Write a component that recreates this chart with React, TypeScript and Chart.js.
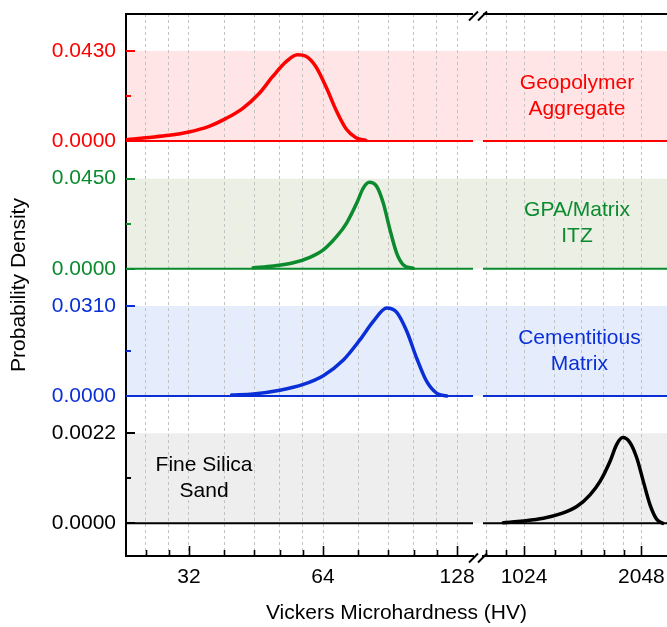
import React, { useEffect, useRef } from 'react';
import { Chart, registerables } from 'chart.js';

Chart.register(...registerables);

const FONT = '"Liberation Sans", Arial, Helvetica, sans-serif';

// ---------- data ----------
const panelNames: string[][] = [
  ['Geopolymer', 'Aggregate'],
  ['GPA/Matrix', 'ITZ'],
  ['Cementitious', 'Matrix'],
  ['Fine Silica', 'Sand'],
];
const panelMax = [0.043, 0.045, 0.031, 0.0022];

const xLeftTicks = [25.6, 28.8, 32, 38.4, 44.8, 51.2, 57.6, 64, 76.8, 89.6, 102.4, 115.2, 128];
const xRightTicks = [819.2, 921.6, 1024, 1228.8, 1433.6, 1638.4, 1843.2, 2048];
const xMajorLabels = [32, 64, 128, 1024, 2048];

const geoX = [23.3, 25.6, 28.9, 32.0, 35.5, 38.7, 42.2, 46.0, 49.3, 52.9, 56.1, 58.6, 61.7, 65.0, 68.5, 72.1, 75.9, 79.9];
const geoY = [0.0007, 0.0016, 0.0027, 0.0043, 0.007, 0.0107, 0.0155, 0.0227, 0.0307, 0.0379, 0.0412, 0.0405, 0.0355, 0.0259, 0.0147, 0.0059, 0.0016, 0.0003];

const itzX = [44.6, 49.5, 54.9, 59.8, 64.1, 68.7, 72.3, 76.2, 78.8, 81.3, 84.5, 87.4, 90.5, 93.7, 97.0, 102.1];
const itzY = [0.0005, 0.0014, 0.003, 0.0057, 0.0094, 0.0161, 0.0228, 0.0328, 0.0403, 0.0432, 0.0411, 0.0328, 0.0194, 0.0077, 0.0019, 0.0002];

const cemX = [39.9, 44.6, 51.2, 57.8, 64.1, 71.1, 77.5, 83.0, 89.0, 93.7, 98.7, 103.9, 109.4, 115.3, 121.4];
const cemY = [0.00035, 0.0007, 0.002, 0.004, 0.007, 0.0124, 0.0194, 0.0257, 0.0303, 0.0288, 0.0223, 0.013, 0.005, 0.0009, 0.0];

const sandX = [906, 1020, 1148, 1267, 1398, 1512, 1604, 1702, 1770, 1834, 1915, 1992, 2071, 2155, 2241, 2322];
const sandY = [0.000015, 0.000057, 0.000123, 0.000229, 0.000409, 0.000697, 0.001025, 0.001518, 0.001929, 0.002094, 0.001971, 0.001602, 0.001025, 0.000451, 0.000099, 0.0];

// ---------- styles / layout ----------
const panelColors = ['#ff0000', '#0b8a2e', '#0a2fd6', '#000000'];
const panelFills = ['#ffe5e5', '#ebefe4', '#e5edfc', '#eeeeee'];
const panelHi = [1.411, 1.324, 1.233, 1.142];
const panelLo = [-0.0944, -0.181, -0.272, -0.363];
const yIds = ['yRed', 'yGreen', 'yBlue', 'yBlack'];
const labelAxis = ['xR', 'xR', 'xR', 'xL'];
const labelX = [1400, 1400, 1420, 34.6];

const XL_MIN = 23.11, XL_MAX = 139.0;
const XR_MIN = 803.6, XR_MAX = 2382;

const Y_AXIS_W = 93.8;
const X_AXIS_H = 44.4;

export default function App() {
  const ref = useRef<HTMLCanvasElement>(null);

  useEffect(() => {
    const canvas = ref.current;
    if (!canvas) return;

    const curves = [
      { x: geoX, y: geoY, xa: 'xL' },
      { x: itzX, y: itzY, xa: 'xL' },
      { x: cemX, y: cemY, xa: 'xL' },
      { x: sandX, y: sandY, xa: 'xR' },
    ];

    const datasets: any[] = [];
    panelColors.forEach((c, i) => {
      datasets.push({
        data: [{ x: XL_MIN, y: 0 }, { x: XL_MAX, y: 0 }],
        xAxisID: 'xL', yAxisID: yIds[i], borderColor: c, borderWidth: 2, pointRadius: 0,
      });
      datasets.push({
        data: [{ x: XR_MIN, y: 0 }, { x: XR_MAX, y: 0 }],
        xAxisID: 'xR', yAxisID: yIds[i], borderColor: c, borderWidth: 2, pointRadius: 0,
      });
    });
    curves.forEach((cv, i) => {
      datasets.push({
        data: cv.x.map((x, k) => ({ x, y: cv.y[k] })),
        xAxisID: cv.xa, yAxisID: yIds[i], borderColor: panelColors[i], borderWidth: 3.5,
        pointRadius: 0, cubicInterpolationMode: 'monotone', borderCapStyle: 'round', borderJoinStyle: 'round',
      });
    });

    const tickFont = { family: FONT, size: 21 };

    const xAxis = (ticks: number[], min: number, max: number, weight: number) => ({
      type: 'logarithmic', position: 'bottom', stack: 'xs', stackWeight: weight, min, max,
      afterBuildTicks: (s: any) => { s.ticks = ticks.map((v) => ({ value: v })); },
      afterFit: (s: any) => { s.height = X_AXIS_H; s.paddingLeft = 0; s.paddingRight = 0; },
      grid: { display: true, color: '#c2c2c2', lineWidth: 1, drawTicks: false },
      border: { display: true, color: '#000', width: 2, dash: [3, 3] },
      ticks: {
        autoSkip: false, maxRotation: 0, minRotation: 0, padding: 9, color: '#000', font: tickFont,
        callback: (v: any) => (xMajorLabels.includes(Number(v)) ? String(v) : ''),
      },
    });

    const yAxis = (i: number) => ({
      type: 'linear', position: 'left', stack: 'ys', stackWeight: 1,
      min: panelMax[i] * panelLo[i], max: panelMax[i] * panelHi[i],
      afterBuildTicks: (s: any) => { s.ticks = [{ value: 0 }, { value: panelMax[i] }]; },
      afterFit: (s: any) => { s.width = Y_AXIS_W; s.paddingTop = 0; s.paddingBottom = 0; },
      grid: { display: false, drawTicks: false },
      border: { display: true, color: '#000', width: 2 },
      ticks: {
        padding: 10, color: panelColors[i], font: tickFont,
        callback: (v: any) => Number(v).toFixed(4),
      },
    });

    const decor = {
      id: 'decor',
      beforeDraw(chart: any) {
        const { ctx, chartArea } = chart;
        ctx.save();
        panelFills.forEach((f, i) => {
          const ys = chart.scales[yIds[i]];
          const top = ys.getPixelForValue(panelMax[i]);
          const bot = ys.getPixelForValue(0);
          ctx.fillStyle = f;
          ctx.fillRect(chartArea.left, top, chartArea.right - chartArea.left, bot - top);
        });
        ctx.restore();
      },
      afterDraw(chart: any) {
        const { ctx, chartArea } = chart;
        const xl = chart.scales.xL, xr = chart.scales.xR;
        ctx.save();
        // top frame
        ctx.strokeStyle = '#000';
        ctx.lineWidth = 2;
        ctx.beginPath();
        ctx.moveTo(chartArea.left - 1, chartArea.top);
        ctx.lineTo(xl.right, chartArea.top);
        ctx.moveTo(xr.left, chartArea.top);
        ctx.lineTo(chartArea.right, chartArea.top);
        ctx.stroke();
        // x ticks (inward)
        ctx.lineWidth = 1.6;
        const drawX = (s: any, ticks: number[]) => {
          ticks.forEach((v) => {
            const px = Math.round(s.getPixelForValue(v)) + 0.5;
            const len = xMajorLabels.includes(v) ? 10 : 6;
            ctx.beginPath();
            ctx.moveTo(px, chartArea.bottom);
            ctx.lineTo(px, chartArea.bottom - len);
            ctx.stroke();
          });
        };
        drawX(xl, xLeftTicks);
        drawX(xr, xRightTicks);
        // y ticks (inward)
        panelColors.forEach((c, i) => {
          const ys = chart.scales[yIds[i]];
          ctx.strokeStyle = c;
          ctx.lineWidth = 2;
          [[0, 9], [panelMax[i] / 2, 5], [panelMax[i], 9]].forEach(([v, len]) => {
            const py = Math.round(ys.getPixelForValue(v));
            ctx.beginPath();
            ctx.moveTo(chartArea.left, py);
            ctx.lineTo(chartArea.left + len, py);
            ctx.stroke();
          });
        });
        // break marks
        const gx = (xl.right + xr.left) / 2;
        ctx.strokeStyle = '#000';
        ctx.lineWidth = 2;
        [chartArea.top + 2, chartArea.bottom + 2].forEach((yc) => {
          [-1, 1].forEach((k) => {
            const cx = gx + k * 4.5;
            ctx.beginPath();
            ctx.moveTo(cx - 4.5, yc + 4.5);
            ctx.lineTo(cx + 4.5, yc - 4.5);
            ctx.stroke();
          });
        });
        // panel labels
        ctx.font = `21px ${FONT}`;
        ctx.textAlign = 'center';
        ctx.textBaseline = 'middle';
        panelNames.forEach((lines, i) => {
          const ys = chart.scales[yIds[i]];
          const xs = chart.scales[labelAxis[i]];
          const px = xs.getPixelForValue(labelX[i]);
          const py = ys.getPixelForValue(panelMax[i] / 2);
          ctx.fillStyle = panelColors[i];
          ctx.fillText(lines[0], px, py - 13);
          ctx.fillText(lines[1], px, py + 13);
        });
        ctx.restore();
      },
    };

    const chart = new Chart(canvas, {
      type: 'line',
      data: { datasets },
      options: {
        responsive: false,
        devicePixelRatio: 1,
        animation: false,
        events: [],
        parsing: false as any,
        layout: { padding: { left: 0, top: 14, right: 0, bottom: 1.4 } },
        scales: {
          xL: xAxis(xLeftTicks, XL_MIN, XL_MAX, 347),
          xGap: {
            type: 'linear', position: 'bottom', stack: 'xs', stackWeight: 10, min: 0, max: 1,
            afterBuildTicks: (s: any) => { s.ticks = []; },
            afterFit: (s: any) => { s.height = X_AXIS_H; s.paddingLeft = 0; s.paddingRight = 0; },
            grid: { display: false, drawTicks: false },
            border: { display: false },
            ticks: { display: false },
          },
          xR: xAxis(xRightTicks, XR_MIN, XR_MAX, 184),
          // stacked left axes: the last one defined is placed on top
          yBlack: yAxis(3),
          yBlue: yAxis(2),
          yGreen: yAxis(1),
          yRed: yAxis(0),
        } as any,
        plugins: {
          legend: { display: false },
          tooltip: { enabled: false },
          title: {
            display: true, text: 'Probability Density', position: 'left', fullSize: false,
            color: '#000', font: { family: FONT, size: 21, weight: 'normal' }, padding: { top: 7, bottom: 0 },
          },
          subtitle: {
            display: true, text: 'Vickers Microhardness (HV)', position: 'bottom', fullSize: false,
            color: '#000', font: { family: FONT, size: 21, weight: 'normal' }, padding: { top: 0, bottom: 0 },
          },
        } as any,
      },
      plugins: [decor],
    } as any);

    return () => chart.destroy();
  }, []);

  return (
    <canvas
      ref={ref}
      width={667}
      height={627}
      style={{ position: 'absolute', left: 0, top: 0, width: 667, height: 627 }}
    />
  );
}
